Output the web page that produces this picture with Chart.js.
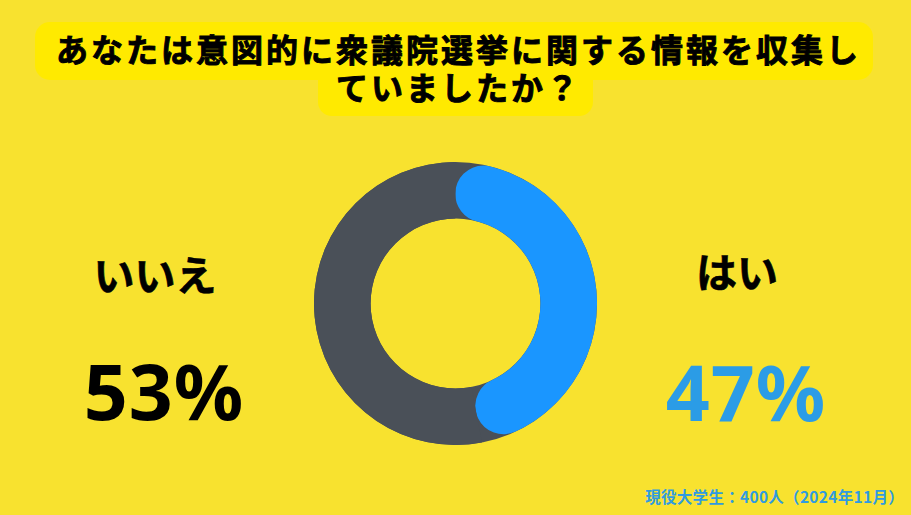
<!DOCTYPE html>
<html lang="ja">
<head>
<meta charset="utf-8">
<script src="https://cdn.jsdelivr.net/npm/chart.js@4.4.1/dist/chart.umd.min.js"></script>
<style>
  @font-face {
    font-family: "TitleJP";
    src: local("Noto Sans CJK JP Bold"), local("NotoSansCJKjp-Bold"), local("Noto Sans CJK JP");
    font-weight: 700;
    ascent-override: 92%;
    descent-override: 20%;
  }
  html, body { margin: 0; padding: 0; }
  body {
    width: 911px; height: 515px; overflow: hidden; position: relative;
    background: #f8e22f;
    font-family: "Noto Sans CJK JP", "Noto Sans", sans-serif;
  }
  .box { position: absolute; background: #ffea00; }
  .title {
    position: absolute; left: 0; width: 911px; text-align: center;
    font-family: "TitleJP", "Noto Sans CJK JP", sans-serif;
    font-weight: 700; font-size: 32px; letter-spacing: 3px; color: #000;
    -webkit-text-stroke: 0.9px #000; line-height: 36px; height: 36px; padding-left: 3px;
  }
  .lbl { position: absolute; font-weight: 700; transform: translate(-50%, -50%); white-space: nowrap; }
  .pct { font-family: "Noto Sans", sans-serif; font-size: 77px; letter-spacing: 1px; }
  #wrap { position: absolute; left: 314px; top: 162px; width: 283px; height: 283px; }
  .note {
    position: absolute; right: 7px; top: 485px; font-size: 15.5px; font-weight: 700;
    color: #2f9be0; letter-spacing: 0.3px;
  }
</style>
</head>
<body>
<div class="box" style="left:35px; top:22px; width:838px; height:58px; border-radius:15px"></div>
<div class="box" style="left:318px; top:72px; width:275px; height:44px; border-radius:0 0 14px 14px"></div>
<div class="title" id="t1" style="top:33px"></div>
<div class="title" id="t2" style="top:71px"></div>

<div class="lbl" id="noLbl" style="left:155px; top:273px; font-size:41px; color:#000; -webkit-text-stroke:0.6px #000"></div>
<div class="lbl pct" id="noPct" style="left:164px; top:390px; color:#000"></div>
<div class="lbl" id="yesLbl" style="left:737px; top:270px; font-size:41px; color:#000; -webkit-text-stroke:0.6px #000"></div>
<div class="lbl pct" id="yesPct" style="left:746px; top:391px; color:#2b9ce6"></div>

<div id="wrap"><canvas id="chartDonut"></canvas></div>
<div class="note" id="note"></div>

<script>
// chart data
var titleLines = ["あなたは意図的に衆議院選挙に関する情報を収集し", "ていましたか？"];
var labels = ["はい", "いいえ"];
var values = [47, 53];
var colors = ["#1a96ff", "#4a5058"];
var note = "現役大学生：400人（2024年11月）";

document.getElementById("t1").textContent = titleLines[0];
document.getElementById("t2").textContent = titleLines[1];
document.getElementById("yesLbl").textContent = labels[0];
document.getElementById("noLbl").textContent = labels[1];
document.getElementById("yesPct").textContent = values[0] + "%";
document.getElementById("noPct").textContent = values[1] + "%";
document.getElementById("note").textContent = note;

// gray ring under the arcs so the rounded blue ends sit on gray
var ringBack = {
  id: "ringBack",
  beforeDatasetsDraw: function(chart) {
    var arc = chart.getDatasetMeta(0).data[0];
    if (!arc) return;
    var ctx = chart.ctx;
    ctx.save();
    ctx.beginPath();
    ctx.arc(arc.x, arc.y, arc.outerRadius, 0, Math.PI * 2);
    ctx.arc(arc.x, arc.y, arc.innerRadius, 0, Math.PI * 2, true);
    ctx.fillStyle = colors[1];
    ctx.fill();
    ctx.restore();
  }
};

var chartDonut = new Chart(document.getElementById("chartDonut"), {
  type: "doughnut",
  data: {
    labels: labels,
    datasets: [{
      data: values,
      backgroundColor: colors,
      borderWidth: 0,
      borderRadius: [100, 0]
    }]
  },
  plugins: [ringBack],
  options: {
    responsive: true,
    maintainAspectRatio: false,
    animation: false,
    cutout: "60%",
    plugins: {
      legend: { display: false },
      tooltip: { enabled: false }
    }
  }
});
</script>
</body>
</html>
